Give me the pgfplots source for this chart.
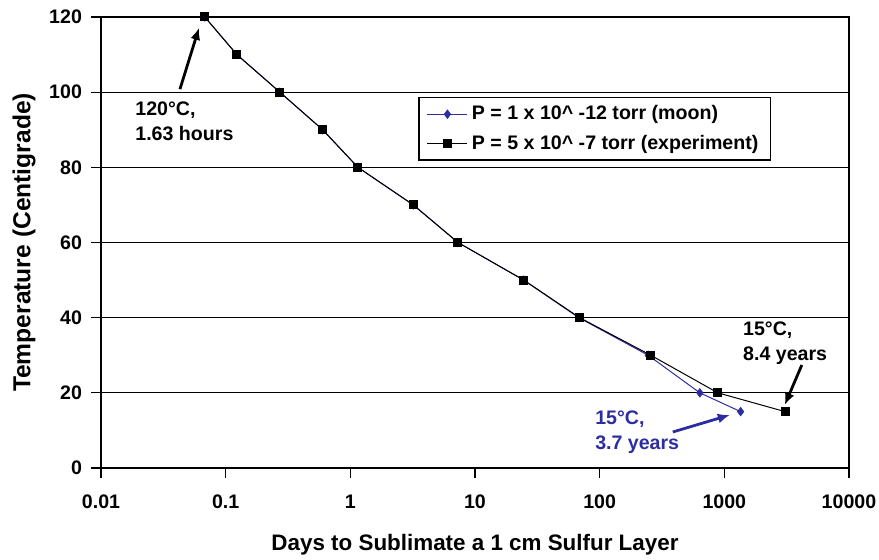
\documentclass[border=0pt]{standalone}
\usepackage{fontspec}
\setmainfont{Liberation Sans}
\usepackage{pgfplots}
\pgfplotsset{compat=1.18}
\usetikzlibrary{arrows.meta}
\definecolor{moonblue}{RGB}{45,45,160}
\newcommand{\f}{\fontsize{9.8}{12.5}\selectfont\bfseries}
\begin{document}
\begin{tikzpicture}
\useasboundingbox (-50.5pt,-46pt) rectangle (389pt,234pt);
\begin{axis}[
  scale only axis, width=374pt, height=225.5pt,
  xmode=log, xmin=0.01, xmax=10000, ymin=0, ymax=120,
  xtick={0.01,0.1,1,10,100,1000,10000},
  xticklabels={0.01,0.1,1,10,100,1000,10000},
  ytick={0,20,40,60,80,100,120},
  xminorticks=false,
  tick align=outside, major tick length=5pt, tick pos=left,
  ymajorgrids, major grid style={black, line width=0.6pt},
  axis line style={line width=0.8pt},
  every tick/.style={black, line width=0.6pt},
  tick label style={font=\f}, /pgf/number format/assume math mode=true,
  xticklabel style={yshift=-5pt},
  yticklabel style={xshift=-1pt},
  xlabel={Days to Sublimate a 1 cm Sulfur Layer},
  ylabel={Temperature (Centigrade)},
  xlabel style={at={(axis description cs:0.5,-0.1707)}, anchor=center, font=\fontsize{11.2}{13}\selectfont\bfseries},
  ylabel style={at={(axis description cs:-0.1029,0.5)}, anchor=center, font=\fontsize{12.3}{14}\selectfont\bfseries},
  legend style={at={(0.424,0.823)}, anchor=north west, draw=black, line width=0.8pt,
    font=\f, inner xsep=4pt, inner ysep=2pt, row sep=2pt, cells={anchor=west}},
  legend image code/.code={\draw[#1, mark repeat=2, mark phase=2] plot coordinates {(0pt,0pt) (10pt,0pt) (20pt,0pt)};},
]
\addplot[color=moonblue, line width=0.5pt, mark=diamond*, mark size=2pt, mark options={fill=moonblue}] coordinates {
 (0.068,120) (0.123,110) (0.272,100) (0.60,90) (1.15,80) (3.2,70) (7.3,60) (24.6,50) (68,40) (245,30) (636,20) (1351,15)};
\addlegendentry{P = 1 x 10\^{} -12 torr (moon)}
\addplot[black, line width=0.5pt, mark=square*, mark size=2pt] coordinates {
 (0.068,120) (0.123,110) (0.272,100) (0.60,90) (1.15,80) (3.2,70) (7.3,60) (24.6,50) (69,40) (257,30) (887,20) (3068,15)};
\addlegendentry{P = 5 x 10\^{} -7 torr (experiment)}
\node[anchor=north west, inner sep=0pt, align=left, font=\f] at (axis cs:0.01874,97.6) {120°C,\\1.63 hours};
\node[anchor=north west, inner sep=0pt, align=left, font=\f] at (axis cs:1406,39.1) {15°C,\\8.4 years};
\node[anchor=north west, inner sep=0pt, align=left, font=\f, text=moonblue] at (axis cs:91.5,15.2) {15°C,\\3.7 years};
\draw[-{Latex[length=6pt,width=5pt]}, line width=1.4pt] (axis cs:0.0430,100.8) -- (axis cs:0.0611,117.1);
\draw[-{Latex[length=6pt,width=5pt]}, line width=1.4pt] (axis cs:4183,27.4) -- (axis cs:3055,16.8);
\draw[-{Latex[length=6pt,width=5pt]}, line width=1.4pt, moonblue] (axis cs:386,9.58) -- (axis cs:1107,14.1);
\end{axis}
\end{tikzpicture}
\end{document}
